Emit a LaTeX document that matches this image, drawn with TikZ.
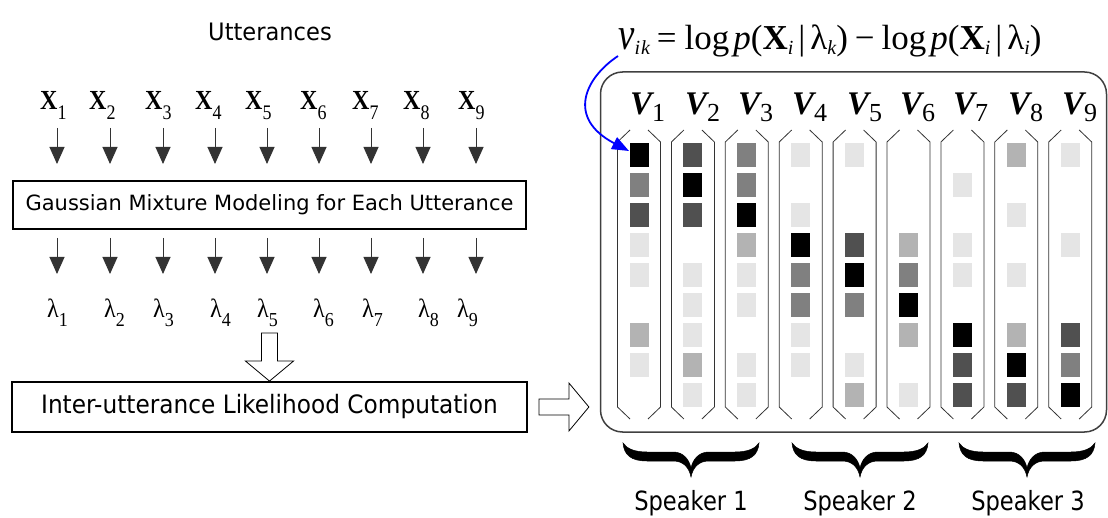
\documentclass[tikz,border=0pt]{standalone}
\usepackage{fontspec}
\usetikzlibrary{arrows.meta,calc}
\newfontfamily\tah[FakeStretch=0.94]{DejaVu Sans}
\newfontfamily\tms{Liberation Serif}
% lowered subscript: depth, size, text
\newcommand\sbs[3]{\raisebox{-#1}{\fontsize{#2}{#2}\selectfont #3}}
\newcommand\Xs[1]{\scalebox{1}[1.15]{{\fontsize{24}{24}\selectfont\bfseries X}\sbs{8pt}{18}{#1}}}
\newcommand\Vs[1]{{\fontsize{33}{33}\selectfont\bfseries\itshape V}\sbs{7pt}{26}{#1}}
\newcommand\Ls[1]{\scalebox{1}[1.1]{{\fontsize{24}{24}\selectfont λ}\sbs{8pt}{18}{#1}}}
\definecolor{lv1}{HTML}{E5E5E5}
\definecolor{lv2}{HTML}{B3B3B3}
\definecolor{lv3}{HTML}{808080}
\definecolor{lv4}{HTML}{505050}
\definecolor{lv5}{HTML}{000000}
\definecolor{pureblue}{RGB}{0,0,255}
\tikzset{
  lbl/.style={inner sep=0pt, anchor=base west, font=\tms},
  txt/.style={inner sep=0pt, font=\tah},
  boxed/.style={draw=black, line width=1.8pt, inner sep=0pt},
  arr/.style={draw=black!80, line width=0.9pt, -{Triangle[length=17pt,width=15pt]}},
  hollow/.style={draw=black, line width=0.8pt, fill=white, line join=miter},
  colline/.style={draw=black!80, line width=0.8pt},
  % horizontal curly brace, tip pointing down, 136 wide and 34 deep
  bracepic/.pic={
    \fill[black, draw=black, line width=0.5pt]
      (0,0) .. controls (1,12) and (8,18) .. (24,18) -- (50,18)
      .. controls (60,18) and (66,24) .. (68,34)
      .. controls (70,24) and (76,18) .. (86,18) -- (112,18)
      .. controls (128,18) and (135,12) .. (136,0)
      .. controls (132,6) and (124,9) .. (112,9) -- (86,9)
      .. controls (76,9) and (70,16) .. (68,25)
      .. controls (66,16) and (60,9) .. (50,9) -- (24,9)
      .. controls (12,9) and (4,6) .. (0,0) -- cycle;
  },
}
\begin{document}
\begin{tikzpicture}[x=1pt, y=-1pt]
\useasboundingbox (0,0) rectangle (1108,518);

% ---------- left column: utterances and models ----------
\node[txt, font=\tah\fontsize{24}{24}\selectfont] (utt) at (270,32) {Utterances};

\foreach \i/\xx in {1/40,2/89,3/145,4/195,5/245,6/300,7/352,8/403,9/458}
  \node[lbl] (x\i) at (\xx,110) {\Xs{\i}};

\foreach \i/\xx in {1/57,2/110,3/163,4/215,5/267,6/319,7/371,8/423,9/476}{
  \coordinate (ta\i) at (\xx,128);
  \coordinate (tb\i) at (\xx,164);
  \coordinate (ba\i) at (\xx,238);
  \coordinate (bb\i) at (\xx,274);
  \draw[arr] (ta\i) -- (tb\i);
  \draw[arr] (ba\i) -- (bb\i);
}

\node[boxed, minimum width=513pt, minimum height=48pt,
      font=\tah\fontsize{21}{21}\selectfont] (gmm) at (269.5,205)
  {\scalebox{1.063}[1]{Gaussian Mixture Modeling for Each Utterance}};

\foreach \i/\xx in {1/47,2/104,3/153,4/210,5/257,6/313,7/362,8/418,9/457}
  \node[lbl] (l\i) at (\xx,318) {\Ls{\i}};

\node[boxed, minimum width=515pt, minimum height=50pt,
      font=\tah\fontsize{23}{23}\selectfont] (inter) at (269.5,407)
  {\scalebox{1.075}[1.1]{Inter-utterance Likelihood Computation}};

% hollow arrow into the likelihood box
\begin{scope}[shift={(inter.north)}]
  \draw[hollow] (-8,-48) -- (8,-48) -- (8,-20) -- (24,-20) -- (0,0)
    -- (-24,-20) -- (-8,-20) -- cycle;
\end{scope}
% hollow arrow towards the score panel
\begin{scope}[shift={(inter.east)}]
  \draw[hollow] (11,-8) -- (41,-8) -- (41,-24) -- (61,0) -- (41,24)
    -- (41,8) -- (11,8) -- cycle;
\end{scope}

% ---------- right panel: score vectors ----------
\node[draw=black!75, line width=1.5pt, rounded corners=22pt,
      minimum width=506pt, minimum height=360pt, inner sep=0pt] (panel) at (853.5,252) {};

\node[lbl, font=\tms\fontsize{35}{35}\selectfont] (form) at (618,50)
  {\scalebox{1.05}[1.3]{\itshape v}\sbs{5pt}{20}{\itshape i\kern1pt k}\kern7pt=\kern8pt
   log\kern4pt{\itshape p}(\textbf{X}\sbs{5pt}{20}{\itshape i}\kern5pt|\kern5pt λ\sbs{5pt}{20}{\itshape k})\kern7pt−\kern7pt
   log\kern4pt{\itshape p}(\textbf{X}\sbs{5pt}{20}{\itshape i}\kern5pt|\kern5pt λ\sbs{5pt}{20}{\itshape i})};

\foreach \i/\xx in {1/630,2/685,3/738,4/792,5/847,6/900,7/953,8/1008,9/1062}
  \node[lbl] (v\i) at (\xx,115) {\Vs{\i}};

\foreach \c/\vals in {1/{5,3,4,1,1,0,2,1,0},2/{4,5,4,0,1,1,1,2,1},3/{3,3,5,2,1,1,0,1,1},
                      4/{1,0,1,5,3,3,1,1,0},5/{1,0,0,4,5,3,0,1,2},6/{0,0,0,2,3,5,2,0,1},
                      7/{0,1,0,1,1,0,5,4,4},8/{2,0,1,0,1,0,2,5,4},9/{1,0,0,1,0,0,4,3,5}}{
  \pgfmathsetmacro\cx{639+53.9*(\c-1)}
  \draw[colline] ({\cx-9},130) -- ({\cx-21.5},142) -- ({\cx-21.5},407) -- ({\cx-9},419);
  \draw[colline] ({\cx+9},130) -- ({\cx+21.5},142) -- ({\cx+21.5},407) -- ({\cx+9},419);
  \foreach \v [count=\r] in \vals {
    \ifnum\v>0
      \fill[lv\v] ({\cx-9.5},{143+30*(\r-1)}) rectangle ++(19,24);
    \fi
  }
}

\coordinate (bstart) at (618,56);
\coordinate (bend) at (629,151);
\draw[pureblue, line width=1.8pt, -{Triangle[length=17pt,width=13pt]}]
  (bstart) .. controls (585,78) and (566,118) .. (bend);

% ---------- speaker groups ----------
\pic at (623,443) {bracepic};
\pic at (792,443) {bracepic};
\pic at (959,443) {bracepic};

\node[txt, anchor=base, font=\tah\fontsize{23}{23}\selectfont] (s1) at (691,510) {\scalebox{1.045}[1.15]{Speaker 1}};
\node[txt, anchor=base, font=\tah\fontsize{23}{23}\selectfont] (s2) at (860,510) {\scalebox{1.045}[1.15]{Speaker 2}};
\node[txt, anchor=base, font=\tah\fontsize{23}{23}\selectfont] (s3) at (1028,510) {\scalebox{1.045}[1.15]{Speaker 3}};
\end{tikzpicture}
\end{document}
